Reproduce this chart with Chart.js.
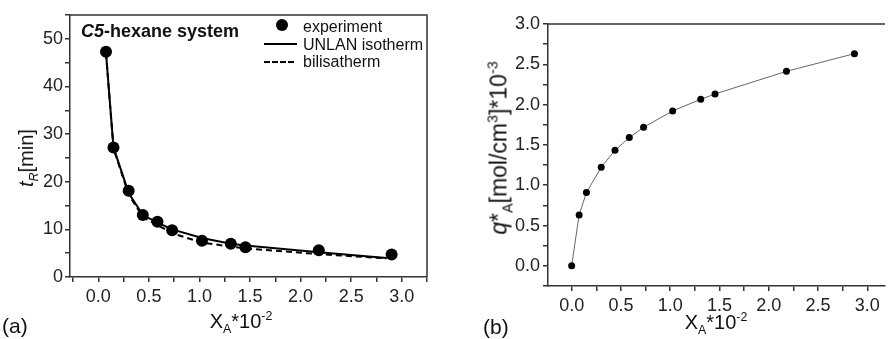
<!DOCTYPE html>
<html>
<head>
<meta charset="utf-8">
<script src="https://cdn.jsdelivr.net/npm/chart.js@4.4.0/dist/chart.umd.min.js"></script>
<style>
  html, body { margin: 0; padding: 0; background: #fff; }
  body { width: 889px; height: 339px; position: relative; overflow: hidden;
         font-family: "Liberation Sans", Arial, sans-serif; color: #111; }
  canvas { position: absolute; top: 0; }
  #chart-a { left: 0; }
  #chart-b { left: 440px; }
  .lbl { position: absolute; white-space: nowrap; line-height: 1; }
  .vert { transform: translate(-50%, -50%) rotate(-90deg); }
  .hcen { transform: translateX(-50%); }
  sub, sup { font-size: 62%; line-height: 0; }
  .key { position: absolute; }
  .key-dot { width: 12px; height: 12px; border-radius: 50%; background: #000; }
  .key-line { height: 0; border-top: 2px solid #000; }
  .key-dash { height: 0; border-top: 2px dashed #000; }
</style>
</head>
<body>
<canvas id="chart-a" width="440" height="339"></canvas>
<canvas id="chart-b" width="449" height="339"></canvas>

<!-- panel (a) texts -->
<div class="lbl" style="left:81px; top:22px; font-size:18px; font-weight:bold;"><i>C5</i>-hexane system</div>
<div class="key key-dot" style="left:276px; top:19px;"></div>
<div class="key key-line" style="left:264px; top:43px; width:33px;"></div>
<div class="key key-dash" style="left:264px; top:61px; width:30px;"></div>
<div class="lbl" style="left:303px; top:18.5px; font-size:16px;">experiment</div>
<div class="lbl" style="left:303px; top:36.5px; font-size:16px;">UNLAN isotherm</div>
<div class="lbl" style="left:303px; top:53.5px; font-size:16px;">bilisatherm</div>
<div class="lbl vert" style="left:26px; top:158px; font-size:20px;"><i>t</i><sub><i>R</i></sub>[min]</div>
<div class="lbl hcen" style="left:241px; top:311px; font-size:20px;">X<sub>A</sub>*10<sup>-2</sup></div>
<div class="lbl" style="left:2px; top:315px; font-size:21px;">(a)</div>

<!-- panel (b) texts -->
<div class="lbl vert" style="left:499px; top:148px; font-size:23px;"><i>q</i>*<sub>A</sub>[mol/cm<sup>3</sup>]*10<sup>-3</sup></div>
<div class="lbl hcen" style="left:716px; top:312px; font-size:20px;">X<sub>A</sub>*10<sup>-2</sup></div>
<div class="lbl" style="left:483px; top:316px; font-size:21px;">(b)</div>

<script>
// mole fraction of C5 (x 10^-2), shared by both panels
const X_EXP = [0.076, 0.15, 0.30, 0.44, 0.585, 0.73, 1.025, 1.31, 1.455, 2.18, 2.9];

// panel (a): retention times [min]
const T_EXP = [47.3, 27.2, 18.1, 13.0, 11.6, 9.8, 7.6, 7.0, 6.25, 5.6, 4.7];
const X_MODEL = [0.076, 0.15, 0.30, 0.44, 0.585, 0.73, 1.025, 1.31, 1.455, 2.18, 2.85];
const T_UNLAN = [47.0, 27.2, 17.6, 13.0, 11.4, 10.0, 8.2, 7.0, 6.6, 5.2, 4.0];
const T_BILIS = [47.0, 27.0, 17.3, 12.6, 10.9, 9.2, 7.2, 6.4, 6.0, 4.8, 3.9];

// panel (b): adsorption isotherm q*A [mol/cm3 x 10^-3]
const X_ISO = [0].concat(X_EXP.slice(0, 10), [2.87]);
const Q_ISO = [0, 0.632, 0.909, 1.223, 1.434, 1.591, 1.719, 1.921, 2.066, 2.132, 2.413, 2.632];

// tick setup
const X_STEP = 0.25, X_LABEL_STEP = 0.5;
const T_STEP = 5, T_LABEL_STEP = 10;
const Q_STEP = 0.25, Q_LABEL_STEP = 0.5;

function pts(xs, ys) {
  return xs.map(function (x, i) { return { x: x, y: ys[i] }; });
}

function isMajor(v, step) {
  return Math.abs(v / step - Math.round(v / step)) < 1e-6;
}

const INK = '#333';
const TICK_FONT = { family: '"Liberation Sans", Arial, sans-serif', size: 18 };

// top / right edges of the frame
const framePlugin = {
  id: 'frame',
  afterDraw: function (chart, args, opts) {
    const a = chart.chartArea;
    const ctx = chart.ctx;
    ctx.save();
    ctx.strokeStyle = INK;
    ctx.lineWidth = 1.5;
    ctx.beginPath();
    ctx.moveTo(a.left, a.top);
    ctx.lineTo(a.right, a.top);
    if (opts.right) ctx.lineTo(a.right, a.bottom);
    ctx.stroke();
    ctx.restore();
  }
};

function axis(min, max, step, labelStep, digits, pad, size, isX) {
  return {
    type: 'linear',
    min: min,
    max: max,
    afterFit: function (s) { if (isX) s.height = size; else s.width = size; },
    border: { color: INK, width: 1.5 },
    grid: { drawOnChartArea: false, drawTicks: true, tickLength: 5, tickColor: INK, lineWidth: 1.5 },
    ticks: {
      stepSize: step,
      includeBounds: false,
      autoSkip: false,
      maxRotation: 0,
      padding: pad,
      color: '#222',
      font: TICK_FONT,
      callback: function (v) { return isMajor(v, labelStep) ? v.toFixed(digits) : ''; }
    }
  };
}

/* Panel (a) */
new Chart(document.getElementById('chart-a'), {
  type: 'scatter',
  data: {
    datasets: [
      { label: 'experiment', data: pts(X_EXP, T_EXP), showLine: false,
        pointRadius: 6, pointBackgroundColor: '#000', pointBorderWidth: 0 },
      { label: 'UNLAN isotherm', data: pts(X_MODEL, T_UNLAN), showLine: true,
        borderColor: '#000', borderWidth: 2, pointRadius: 0, tension: 0 },
      { label: 'bilisatherm', data: pts(X_MODEL, T_BILIS), showLine: true,
        borderColor: '#000', borderWidth: 2, borderDash: [6, 4], pointRadius: 0, tension: 0 }
    ]
  },
  options: {
    responsive: false,
    animation: false,
    layout: { padding: { top: 15, right: 13, left: 0, bottom: 0 } },
    plugins: { legend: { display: false }, tooltip: { enabled: false }, frame: { right: true } },
    scales: {
      x: axis(-0.28, 3.25, X_STEP, X_LABEL_STEP, 1, 4, 62, true),
      y: axis(0, 55, T_STEP, T_LABEL_STEP, 0, 2, 70, false)
    }
  },
  plugins: [framePlugin]
});

/* Panel (b) */
new Chart(document.getElementById('chart-b'), {
  type: 'scatter',
  data: {
    datasets: [
      { label: 'q*A', data: pts(X_ISO, Q_ISO), showLine: true,
        borderColor: '#666', borderWidth: 1, tension: 0,
        pointRadius: 3.5, pointBackgroundColor: '#000', pointBorderWidth: 0 }
    ]
  },
  options: {
    responsive: false,
    animation: false,
    layout: { padding: { top: 24, right: 0, left: 0, bottom: 0 } },
    plugins: { legend: { display: false }, tooltip: { enabled: false }, frame: { right: false } },
    scales: {
      x: axis(-0.24, 3.18, X_STEP, X_LABEL_STEP, 1, 4, 53, true),
      y: axis(-0.25, 3.0, Q_STEP, Q_LABEL_STEP, 1, 3, 108, false)
    }
  },
  plugins: [framePlugin]
});
</script>
</body>
</html>
